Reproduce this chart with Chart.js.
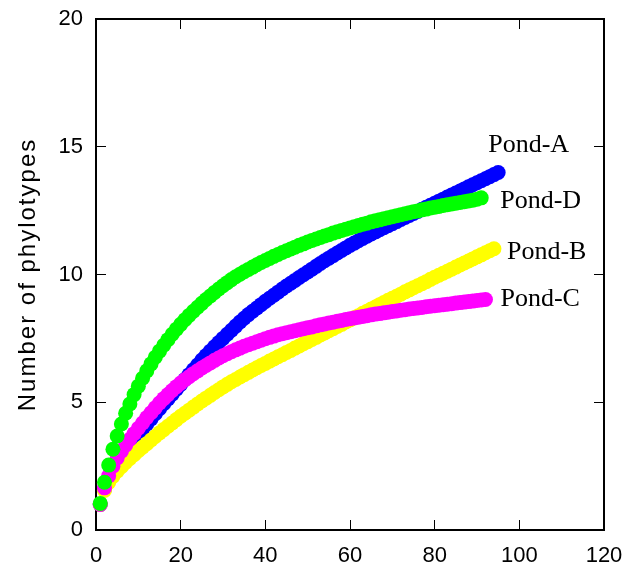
<!DOCTYPE html>
<html>
<head>
<meta charset="utf-8">
<script src="https://cdn.jsdelivr.net/npm/chart.js@4"></script>
<style>
html, body { margin: 0; padding: 0; background: #fff; }
#wrap { width: 629px; height: 574px; }
</style>
</head>
<body>
<div id="wrap"><canvas id="chart" width="629" height="574"></canvas></div>
<script>
// rarefaction curves, one value per sample count (1, 2, 3, ...)
const pondA = [
    1.00, 1.60, 2.00, 2.35, 2.65, 2.90, 3.15, 3.37, 3.57, 3.76,
    3.95, 4.15, 4.35, 4.55, 4.75, 4.94, 5.13, 5.32, 5.51, 5.70,
    5.89, 6.08, 6.27, 6.46, 6.65, 6.83, 7.00, 7.17, 7.34, 7.50,
    7.66, 7.82, 7.98, 8.14, 8.29, 8.43, 8.56, 8.69, 8.82, 8.95,
    9.07, 9.19, 9.31, 9.43, 9.55, 9.66, 9.77, 9.88, 9.99, 10.10,
    10.21, 10.32, 10.43, 10.54, 10.64, 10.74, 10.84, 10.94, 11.04, 11.14,
    11.23, 11.32, 11.41, 11.50, 11.59, 11.67, 11.75, 11.83, 11.91, 11.99,
    12.07, 12.15, 12.23, 12.31, 12.39, 12.47, 12.55, 12.63, 12.71, 12.79,
    12.87, 12.95, 13.03, 13.11, 13.19, 13.27, 13.35, 13.43, 13.51, 13.59,
    13.67, 13.75, 13.83, 13.91, 13.99
];
const pondB = [
    1.00, 1.55, 1.86, 2.10, 2.30, 2.48, 2.64, 2.80, 2.95, 3.10,
    3.24, 3.38, 3.52, 3.66, 3.80, 3.93, 4.06, 4.19, 4.32, 4.45,
    4.57, 4.69, 4.81, 4.93, 5.05, 5.16, 5.27, 5.38, 5.49, 5.60,
    5.70, 5.80, 5.89, 5.99, 6.08, 6.17, 6.26, 6.35, 6.44, 6.52,
    6.61, 6.69, 6.78, 6.86, 6.95, 7.03, 7.12, 7.20, 7.29, 7.37,
    7.46, 7.54, 7.63, 7.71, 7.80, 7.88, 7.97, 8.05, 8.14, 8.22,
    8.31, 8.39, 8.48, 8.56, 8.65, 8.73, 8.82, 8.90, 8.99, 9.07,
    9.15, 9.23, 9.32, 9.40, 9.48, 9.56, 9.64, 9.72, 9.81, 9.89,
    9.97, 10.05, 10.13, 10.21, 10.29, 10.37, 10.45, 10.53, 10.61, 10.69,
    10.77, 10.85, 10.93, 11.01
];
const pondC = [
    1.00, 1.65, 2.12, 2.50, 2.82, 3.08, 3.32, 3.55, 3.77, 3.98,
    4.19, 4.40, 4.59, 4.78, 4.97, 5.14, 5.30, 5.46, 5.61, 5.75,
    5.88, 6.00, 6.12, 6.23, 6.34, 6.44, 6.54, 6.64, 6.73, 6.82,
    6.90, 6.98, 7.05, 7.12, 7.19, 7.25, 7.31, 7.37, 7.43, 7.49,
    7.54, 7.59, 7.64, 7.68, 7.72, 7.76, 7.80, 7.84, 7.88, 7.92,
    7.95, 7.99, 8.03, 8.06, 8.10, 8.13, 8.17, 8.20, 8.24, 8.27,
    8.30, 8.33, 8.36, 8.39, 8.42, 8.45, 8.47, 8.50, 8.52, 8.55,
    8.57, 8.60, 8.62, 8.65, 8.67, 8.69, 8.71, 8.74, 8.76, 8.78,
    8.80, 8.82, 8.84, 8.86, 8.88, 8.90, 8.92, 8.94, 8.96, 8.98,
    9.00, 9.02
];
const pondD = [
    1.04, 1.87, 2.54, 3.16, 3.68, 4.15, 4.57, 4.93, 5.30, 5.63,
    5.94, 6.23, 6.50, 6.76, 7.00, 7.23, 7.45, 7.66, 7.86, 8.05,
    8.23, 8.40, 8.56, 8.72, 8.87, 9.02, 9.16, 9.30, 9.43, 9.56,
    9.68, 9.80, 9.91, 10.01, 10.11, 10.20, 10.29, 10.38, 10.47, 10.55,
    10.63, 10.71, 10.78, 10.86, 10.93, 11.00, 11.07, 11.14, 11.20, 11.27,
    11.33, 11.39, 11.45, 11.51, 11.56, 11.62, 11.67, 11.72, 11.77, 11.82,
    11.87, 11.92, 11.97, 12.01, 12.06, 12.10, 12.14, 12.18, 12.22, 12.26,
    12.30, 12.34, 12.38, 12.42, 12.46, 12.49, 12.53, 12.56, 12.60, 12.63,
    12.66, 12.70, 12.73, 12.76, 12.79, 12.82, 12.85, 12.88, 12.91, 12.95,
    13.00
];

const seriesNames = ['Pond-A', 'Pond-B', 'Pond-C', 'Pond-D'];
const seriesValues = [pondA, pondB, pondC, pondD];
const seriesColors = ['#0000ff', '#ffff00', '#ff00ff', '#00ff00'];
const drawOrder = [3, 2, 1, 0]; // green on top, blue underneath

const xMin = 0, xMax = 120, xStep = 20;
const yMin = 0, yMax = 20, yStep = 5;
const yTitle = 'Number of phylotypes';

// pixel nudges for the series names next to the last point
const nameOffsets = {
    'Pond-A': [-10, -21],
    'Pond-B': [13, 10],
    'Pond-C': [15, 6],
    'Pond-D': [19, 10]
};

const toPoints = values => values.map((v, i) => ({ x: i + 1, y: v }));

const endLabels = {
    id: 'endLabels',
    afterDatasetsDraw(chart) {
        const ctx = chart.ctx;
        const xs = chart.scales.x, ys = chart.scales.y;
        ctx.save();
        ctx.font = '26px "Liberation Serif", "Times New Roman", serif';
        ctx.fillStyle = '#000';
        ctx.textAlign = 'left';
        ctx.textBaseline = 'alphabetic';
        chart.data.datasets.forEach(ds => {
            const last = ds.data[ds.data.length - 1];
            const off = nameOffsets[ds.label];
            ctx.fillText(ds.label, xs.getPixelForValue(last.x) + off[0], ys.getPixelForValue(last.y) + off[1]);
        });
        ctx.restore();
    }
};

// y title drawn by hand so it can get a little letter spacing
const spacedTitle = {
    id: 'spacedTitle',
    afterDraw(chart) {
        const ctx = chart.ctx;
        const area = chart.chartArea;
        ctx.save();
        ctx.translate(35, (area.top + area.bottom) / 2);
        ctx.rotate(-Math.PI / 2);
        ctx.font = '24px "Liberation Sans", Arial, sans-serif';
        ctx.letterSpacing = '2px';
        ctx.fillStyle = '#000';
        ctx.textAlign = 'center';
        ctx.textBaseline = 'alphabetic';
        ctx.fillText(yTitle, 0, 0);
        ctx.restore();
    }
};

const tickFont = { family: 'Liberation Sans', size: 22 };
const frame = { display: true, color: '#000', width: 2 };
const inwardTicks = { drawOnChartArea: false, drawTicks: true, tickLength: -10, color: '#000', lineWidth: 1 };

// fixed box sizes; label overhang padding is dropped so the frame stays put
const fixBox = (w, h) => s => {
    if (w !== null) s.width = w;
    if (h !== null) s.height = h;
    s.paddingLeft = 0;
    s.paddingRight = 0;
    s.paddingTop = 0;
    s.paddingBottom = 0;
};

new Chart(document.getElementById('chart'), {
    type: 'scatter',
    data: {
        datasets: seriesNames.map((name, i) => ({
            label: name,
            data: toPoints(seriesValues[i]),
            backgroundColor: seriesColors[i],
            borderWidth: 0,
            pointRadius: 7.5,
            pointHoverRadius: 7.5,
            order: drawOrder[i],
            clip: false
        }))
    },
    options: {
        responsive: false,
        animation: false,
        events: [],
        layout: { padding: 0 },
        plugins: {
            legend: { display: false },
            tooltip: { enabled: false }
        },
        scales: {
            x: {
                type: 'linear',
                position: 'bottom',
                min: xMin, max: xMax,
                ticks: { stepSize: xStep, font: tickFont, color: '#000', padding: 23, maxRotation: 0 },
                grid: inwardTicks,
                border: frame,
                afterFit: fixBox(null, 44)
            },
            xTop: {
                type: 'linear',
                position: 'top',
                min: xMin, max: xMax,
                ticks: { stepSize: xStep, display: false },
                grid: inwardTicks,
                border: frame,
                afterFit: fixBox(null, 19)
            },
            y: {
                type: 'linear',
                position: 'left',
                min: yMin, max: yMax,
                ticks: { stepSize: yStep, font: tickFont, color: '#000', padding: 23 },
                grid: inwardTicks,
                border: frame,
                afterFit: fixBox(96, null)
            },
            yRight: {
                type: 'linear',
                position: 'right',
                min: yMin, max: yMax,
                ticks: { stepSize: yStep, display: false },
                grid: inwardTicks,
                border: frame,
                afterFit: fixBox(25, null)
            }
        }
    },
    plugins: [endLabels, spacedTitle]
});
</script>
</body>
</html>
